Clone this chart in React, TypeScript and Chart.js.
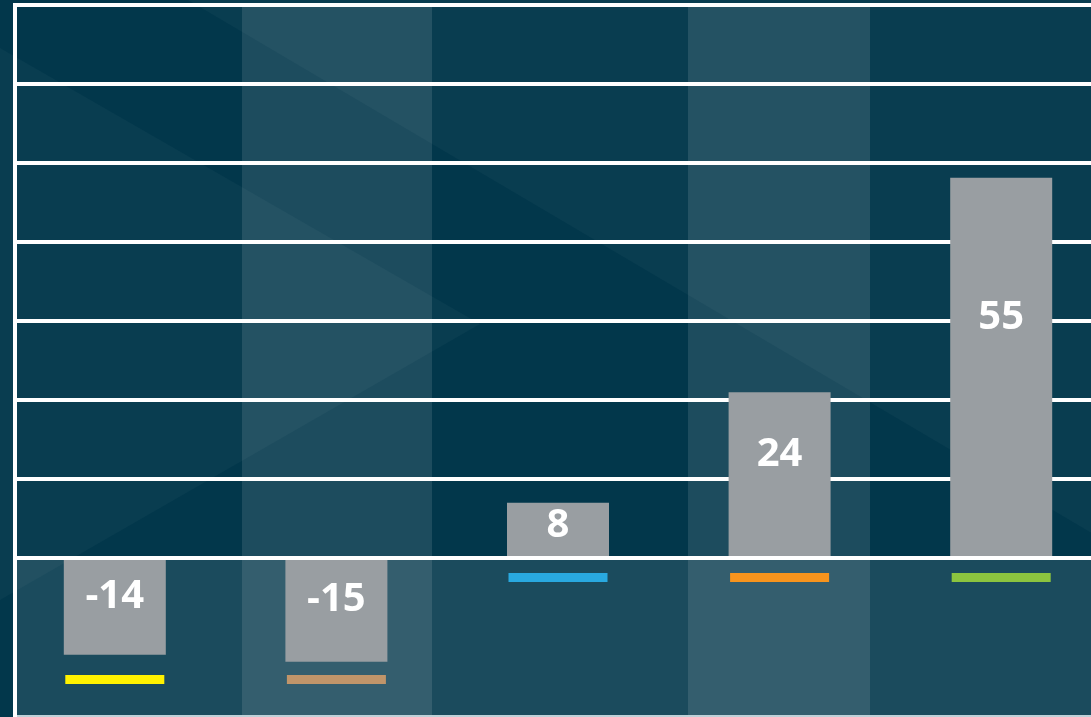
import { useEffect, useRef } from "react";
import { Chart, registerables } from "chart.js";

Chart.register(...registerables);

// ---- data ----
const categories = ["Item 1", "Item 2", "Item 3", "Item 4", "Item 5"];
const values = [-14, -15, 8, 24, 55];
const barColor = "#999ea2";
const markerColors = ["#fff200", "#c0956a", "#29a9e0", "#f7941d", "#8cc43f"];
const markerRanges: [number, number][] = [
  [-16.93, -18.23],
  [-16.93, -18.23],
  [-2.17, -3.47],
  [-2.17, -3.47],
  [-2.17, -3.47],
];
const gridValues = [0, 11.43, 22.86, 34.29, 45.71, 57.14, 68.57, 80];
const yMin = -22.7;
const yMax = 80;

const W = 1112;
const H = 717;

const backgroundPlugin = {
  id: "bgDecor",
  beforeDraw(chart: any) {
    const { ctx, width, chartArea, scales } = chart;
    const y = scales.y;
    const zeroY = y.getPixelForValue(0);
    const bottom = chartArea.bottom;
    ctx.save();
    ctx.fillStyle = "#02374b";
    ctx.fillRect(0, 0, width, chart.height);
    // soft diagonal facets
    ctx.fillStyle = "rgba(255,255,255,0.032)";
    ctx.beginPath();
    ctx.moveTo(0, 48);
    ctx.lineTo(480, 324);
    ctx.lineTo(0, 600);
    ctx.closePath();
    ctx.fill();
    ctx.beginPath();
    ctx.moveTo(188, 0);
    ctx.lineTo(width, 0);
    ctx.lineTo(width, 7 + 0.59 * (width - 200));
    ctx.closePath();
    ctx.fill();
    // vertical light bands
    ctx.fillStyle = "rgba(255,255,255,0.11)";
    ctx.fillRect(242, 3, 190, bottom - 3);
    ctx.fillRect(688, 3, 182, bottom - 3);
    // lower (negative) region
    ctx.fillStyle = "rgba(255,255,255,0.1)";
    ctx.fillRect(17, zeroY, width - 17, bottom - zeroY);
    // grid lines (except zero)
    ctx.strokeStyle = "#ffffff";
    ctx.lineWidth = 4;
    gridValues.forEach((v) => {
      if (v === 0) return;
      const py = y.getPixelForValue(v);
      ctx.beginPath();
      ctx.moveTo(15, py);
      ctx.lineTo(width, py);
      ctx.stroke();
    });
    // left axis line
    ctx.beginPath();
    ctx.moveTo(15, 3);
    ctx.lineTo(15, chart.height);
    ctx.stroke();
    // bottom line
    ctx.strokeStyle = "#bfd1d8";
    ctx.lineWidth = 2;
    ctx.beginPath();
    ctx.moveTo(17, bottom + 1);
    ctx.lineTo(width, bottom + 1);
    ctx.stroke();
    ctx.restore();
  },
  afterDatasetsDraw(chart: any) {
    const { ctx, width, scales } = chart;
    const y = scales.y;
    ctx.save();
    // zero line over bars
    ctx.strokeStyle = "#ffffff";
    ctx.lineWidth = 4;
    const zeroY = y.getPixelForValue(0);
    ctx.beginPath();
    ctx.moveTo(15, zeroY);
    ctx.lineTo(width, zeroY);
    ctx.stroke();
    // value labels
    const meta = chart.getDatasetMeta(0);
    ctx.fillStyle = "#ffffff";
    ctx.font = "bold 40px 'Open Sans'";
    ctx.textAlign = "center";
    ctx.textBaseline = "alphabetic";
    meta.data.forEach((bar: any, i: number) => {
      const v = values[i];
      const cy = y.getPixelForValue(v * (v > 0 ? 0.64 : 0.37));
      ctx.fillText(String(v), bar.x, cy + 14.3);
    });
    ctx.restore();
  },
};

export default function App() {
  const ref = useRef<HTMLCanvasElement | null>(null);
  useEffect(() => {
    if (!ref.current) return;
    const chart = new Chart(ref.current, {
      type: "bar",
      data: {
        labels: categories,
        datasets: [
          {
            data: values,
            backgroundColor: barColor,
            borderWidth: 0,
            barPercentage: 0.4603,
            categoryPercentage: 1,
            grouped: false,
          } as any,
          {
            data: markerRanges as any,
            backgroundColor: markerColors,
            borderWidth: 0,
            barPercentage: 0.4468,
            categoryPercentage: 1,
            grouped: false,
          } as any,
        ],
      },
      options: {
        responsive: false,
        animation: false,
        devicePixelRatio: 1,
        layout: { padding: { left: 4, right: 0, top: 5, bottom: 2 } },
        plugins: { legend: { display: false }, tooltip: { enabled: false } },
        scales: {
          x: { display: false, offset: true },
          y: { display: false, min: yMin, max: yMax },
        },
      },
      plugins: [backgroundPlugin],
    });
    return () => chart.destroy();
  }, []);
  return (
    <div
      style={{
        position: "fixed",
        left: 0,
        top: 0,
        width: 1091,
        height: 717,
        overflow: "hidden",
        background: "#02374b",
      }}
    >
      <canvas ref={ref} width={W} height={H} style={{ display: "block" }} />
    </div>
  );
}
